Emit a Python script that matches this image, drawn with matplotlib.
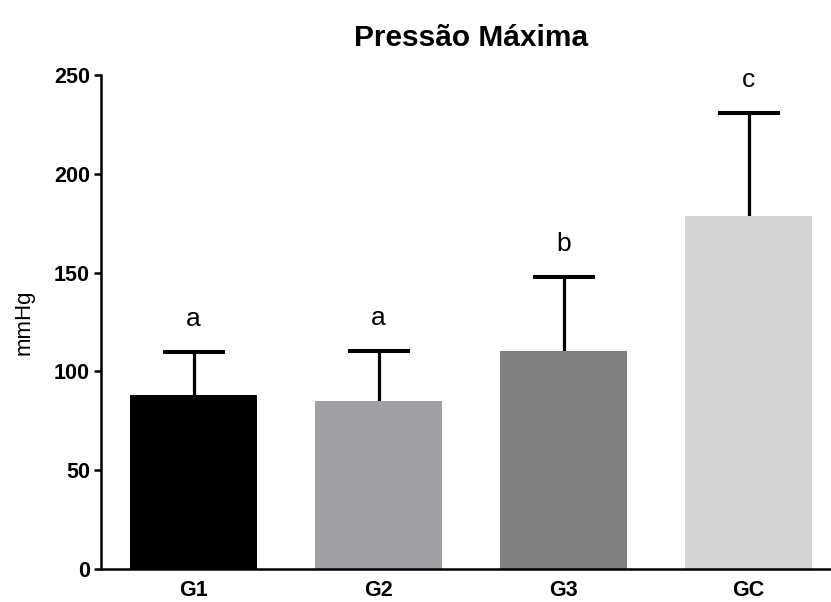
import matplotlib
matplotlib.use('Agg')
import matplotlib.pyplot as plt

plt.rcParams['font.family'] = ['Liberation Sans', 'DejaVu Sans']

# dados
grupos = ['G1', 'G2', 'G3', 'GC']
medias = [88.1, 85.0, 110.3, 178.6]
erros = [21.7, 25.3, 37.5, 52.2]
letras = ['a', 'a', 'b', 'c']
cores = ['#000000', '#a09fa4', '#808080', '#d4d4d4']

fig = plt.figure(figsize=(8.31, 6.02), dpi=100)
ax = fig.add_axes([101 / 831, 33 / 602, 740 / 831, 494 / 602])

x = range(len(grupos))
ax.bar(x, medias, width=0.686, color=cores, zorder=2)
eb = ax.errorbar(x, medias, yerr=[[0] * len(erros), erros], fmt='none', ecolor='black',
                 elinewidth=2.3, capsize=22, capthick=2.9, zorder=1)
# só a barra de erro superior
eb[1][0].set_visible(False)
eb[1][1].set_zorder(3)

for i, (m, e, l) in enumerate(zip(medias, erros, letras)):
    ax.text(i, m + e + 16.5, l, ha='center', va='center', fontsize=19)

ax.set_xlim(-0.5, 3.5)
ax.set_ylim(0, 250)
ax.set_yticks([0, 50, 100, 150, 200, 250])
ax.set_xticks(list(x))
ax.set_xticklabels(grupos)
for lab in ax.get_xticklabels() + ax.get_yticklabels():
    lab.set_fontweight('bold')
    lab.set_fontsize(15.5)
ax.tick_params(axis='x', length=0, pad=8)
ax.tick_params(axis='y', length=5, width=1.8, pad=3)

ax.spines['top'].set_visible(False)
ax.spines['right'].set_visible(False)
ax.spines['left'].set_linewidth(1.8)
ax.spines['bottom'].set_linewidth(1.8)

ax.set_ylabel('mmHg', fontsize=16, labelpad=14)
ax.set_title('Pressão Máxima', fontsize=21.5, fontweight='bold', pad=21)

fig.savefig('out.png', dpi=100)
